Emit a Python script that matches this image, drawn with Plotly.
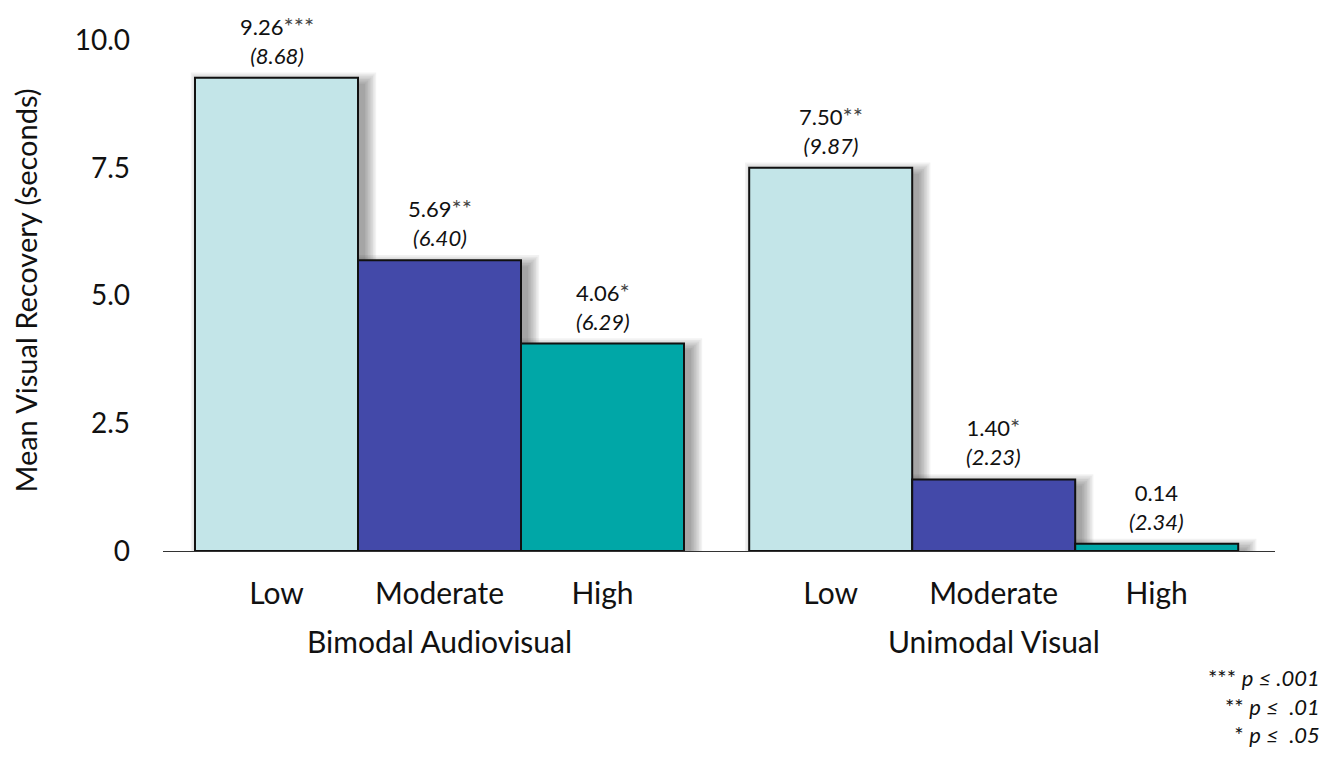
import plotly.graph_objects as go

# Data
groups = ["Bimodal Audiovisual", "Unimodal Visual"]
levels = ["Low", "Moderate", "High"]
means = [9.26, 5.69, 4.06, 7.50, 1.40, 0.14]
sds = [8.68, 6.40, 6.29, 9.87, 2.23, 2.34]
stars = ["***", "**", "*", "**", "*", ""]
level_colors = ["#c3e5e8", "#4349a9", "#00a7a7"]

y_ticks = [0, 2.5, 5.0, 7.5, 10.0]
y_tick_text = ["0", "2.5", "5.0", "7.5", "10.0"]

footnotes = ["*** <i>p ≤ .001</i>", "** <i>p ≤ &nbsp;.01</i>", "* <i>p ≤ &nbsp;.05</i>"]

FONT = "Lato"
group_gap = 0.4

# x positions: three adjacent bars per group, groups separated by a gap
positions = []
for g in range(len(groups)):
    for i in range(len(levels)):
        positions.append(g * (len(levels) + group_gap) + i)
colors = [level_colors[i % len(levels)] for i in range(len(means))]
tick_text = [levels[i % len(levels)] for i in range(len(means))]

W, H = 1334, 757
plot_left, plot_right, plot_top, plot_bottom = 163, 1275, 30, 551
px_x = 1 / 163.0   # data units per pixel, x
px_y = 1 / 51.1    # data units per pixel, y


def to_paper(px, py):
    """Pixel position on the page -> paper coordinates."""
    return ((px - plot_left) / (plot_right - plot_left),
            (plot_bottom - py) / (plot_bottom - plot_top))


fig = go.Figure()

# soft drop shadows behind the bars
shapes = []
for p, v in zip(positions, means):
    for k in range(8):
        spread = k * 1.6
        shapes.append(dict(
            type="rect", layer="below", xref="x", yref="y",
            x0=p - 0.5 + (7 - spread) * px_x,
            x1=p + 0.5 + (7 + spread) * px_x,
            y0=-(5 + spread) * px_y,
            y1=v - (6 - spread) * px_y,
            line=dict(width=0),
            fillcolor="rgba(0,0,0,0.05)",
        ))

fig.add_trace(go.Bar(
    x=positions, y=means, width=1.0,
    marker=dict(color=colors, line=dict(color="#111111", width=2)),
    hoverinfo="skip", showlegend=False,
))

annotations = []
for p, v, s, st in zip(positions, means, sds, stars):
    star_txt = (f"<span style='color:#444444;font-size:24px'>{st}</span>"
                if st else "")
    annotations.append(dict(
        x=p, y=v, xref="x", yref="y", yanchor="bottom", yshift=7,
        text=f"{v:.2f}{star_txt}<br><i>({s:.2f})</i>",
        showarrow=False, align="center",
        font=dict(family=FONT, size=22, color="#111111"),
    ))

for g, name in enumerate(groups):
    center = sum(positions[g * 3:(g + 1) * 3]) / 3
    _, gy = to_paper(0, 641)
    annotations.append(dict(
        x=center, y=gy, xref="x", yref="paper", yanchor="middle",
        text=name, showarrow=False,
        font=dict(family=FONT, size=30, color="#111111"),
    ))

# significance key, bottom right
fx, fy = to_paper(1322, 706)
annotations.append(dict(
    x=fx, y=fy, xref="paper", yref="paper",
    text="<br>".join(footnotes), showarrow=False, align="right",
    xanchor="right", yanchor="middle",
    font=dict(family=FONT, size=22, color="#111111"),
))

x_lo = positions[0] - (276.5 - plot_left) * px_x
x_hi = positions[0] + (plot_right - 276.5) * px_x

fig.update_layout(
    width=W, height=H,
    margin=dict(l=plot_left, r=W - plot_right, t=plot_top, b=H - plot_bottom),
    paper_bgcolor="white", plot_bgcolor="white",
    font=dict(family=FONT, color="#111111"),
    shapes=shapes, annotations=annotations,
    xaxis=dict(
        range=[x_lo, x_hi], tickvals=positions, ticktext=tick_text,
        showgrid=False, zeroline=False, showline=True, linecolor="#333333",
        linewidth=1, ticks="", tickfont=dict(size=30, family=FONT),
        ticklabelstandoff=16,
    ),
    yaxis=dict(
        range=[0, (plot_bottom - plot_top) * px_y], tickvals=y_ticks,
        ticktext=y_tick_text, showgrid=False, zeroline=False, showline=False,
        ticks="", tickfont=dict(size=28, family=FONT), ticklabelstandoff=32,
        title=dict(text="Mean Visual Recovery (seconds)",
                   font=dict(size=29, family=FONT), standoff=28),
    ),
)

fig.write_html("out.html")
